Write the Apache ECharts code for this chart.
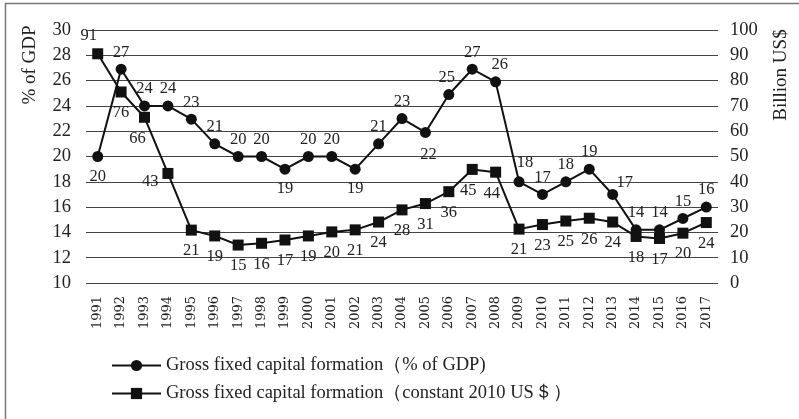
<!DOCTYPE html>
<html>
<head>
<meta charset="utf-8">
<script src="https://cdn.jsdelivr.net/npm/echarts@6/dist/echarts.min.js"></script>
<style>html,body{margin:0;padding:0;background:#fff}#c{width:799px;height:419px}</style>
</head>
<body>
<div id="c"></div>
<script>
const years = ['1991','1992','1993','1994','1995','1996','1997','1998','1999','2000','2001','2002','2003','2004','2005','2006','2007','2008','2009','2010','2011','2012','2013','2014','2015','2016','2017'];
const pctGDP = [20.0,26.9,24.0,24.0,22.95,21.0,20.0,20.0,19.0,20.0,20.0,19.0,21.0,23.0,21.9,24.9,26.9,25.9,18.0,17.0,18.0,19.0,17.0,14.2,14.2,15.1,16.0];
const pctLabels = ['20','27','24','24','23','21','20','20','19','20','20','19','21','23','22','25','27','26','18','17','18','19','17','14','14','15','16'];
const usdBillion = [90.6,75.5,65.5,43.3,20.9,18.6,15.0,15.7,17.0,18.6,20.2,21.0,24.1,28.9,31.4,36.1,44.9,43.8,21.3,23.1,24.5,25.6,24.1,18.4,17.6,19.7,23.9];
const usdLabels = ['91','76','66','43','21','19','15','16','17','19','20','21','24','28','31','36','45','44','21','23','25','26','24','18','17','20','24'];
const leftTicks = {min:10, max:30, interval:2};
const rightTicks = {min:0, max:100, interval:10};
const seriesNames = ['Gross fixed capital formation（% of GDP)','Gross fixed capital formation（constant 2010 US＄）'];

const FONT = '"Liberation Serif","DejaVu Serif",serif';
const TXT = '#222';

const pctPos = {0:'bottom',8:'bottom',11:'bottom',14:'bottom'};
const pctOff = {14:[3,2],17:[4,0],18:[6,-2],22:[12,5],15:[-2,0]};
const usdPos = {0:'top',3:'left'};
const usdOff = {0:[-9,0],2:[-7,0],3:[0,8],16:[-4,0],17:[-4,0]};

const pctData = pctGDP.map((v,i)=>({value:v,label:{formatter:pctLabels[i],position:pctPos[i]||'top',distance:(pctPos[i]==='bottom')?6:3,offset:pctOff[i]||[0,0]}}));
const usdData = usdBillion.map((v,i)=>({value:v,label:{formatter:usdLabels[i],position:usdPos[i]||'bottom',distance:(usdPos[i])?4:7,offset:usdOff[i]||[0,0]}}));

const chart = echarts.init(document.getElementById('c'));
chart.setOption({
  animation:false,
  backgroundColor:'#fff',
  textStyle:{fontFamily:FONT},
  grid:{left:86,right:81,top:30,bottom:136,containLabel:false},
  legend:{
    orient:'vertical',left:106,top:351,itemWidth:49,itemHeight:14,itemGap:9,
    textStyle:{fontFamily:FONT,fontSize:18.5,color:TXT},
    data:seriesNames
  },
  xAxis:{
    type:'category',data:years,boundaryGap:true,
    axisLine:{show:false},axisTick:{show:false},
    axisLabel:{rotate:90,fontFamily:'"DejaVu Serif",serif',fontSize:13,color:TXT,margin:13,interval:0}
  },
  yAxis:[
    {type:'value',min:leftTicks.min,max:leftTicks.max,interval:leftTicks.interval,position:'left',
     axisLine:{show:false},axisTick:{show:false},
     axisLabel:{fontFamily:FONT,fontSize:18.5,color:TXT,margin:15},
     splitLine:{lineStyle:{color:'#444',width:1}}},
    {type:'value',min:rightTicks.min,max:rightTicks.max,interval:rightTicks.interval,position:'right',
     axisLine:{show:false},axisTick:{show:false},
     axisLabel:{fontFamily:FONT,fontSize:18.5,color:TXT,margin:12},
     splitLine:{show:false}}
  ],
  series:[
    {name:seriesNames[0],type:'line',yAxisIndex:0,data:pctData,
     symbol:'circle',symbolSize:11,showAllSymbol:true,
     lineStyle:{color:'#111',width:2},itemStyle:{color:'#111'},
     label:{show:true,fontFamily:FONT,fontSize:16.5,color:TXT}},
    {name:seriesNames[1],type:'line',yAxisIndex:1,data:usdData,
     symbol:'rect',symbolSize:11,showAllSymbol:true,
     lineStyle:{color:'#111',width:2},itemStyle:{color:'#111'},
     label:{show:true,fontFamily:FONT,fontSize:16.5,color:TXT}}
  ],
  graphic:[
    {type:'rect',shape:{x:5.5,y:3.5,width:820,height:440},style:{fill:null,stroke:'#777',lineWidth:1.5},silent:true},
    {type:'text',x:30,y:65,rotation:Math.PI/2,style:{text:'% of GDP',font:'19px '+FONT,fill:TXT,align:'center',verticalAlign:'middle'}},
    {type:'text',x:781,y:75,rotation:Math.PI/2,style:{text:'Billion US$',font:'19px '+FONT,fill:TXT,align:'center',verticalAlign:'middle'}}
  ]
});
</script>
</body>
</html>
